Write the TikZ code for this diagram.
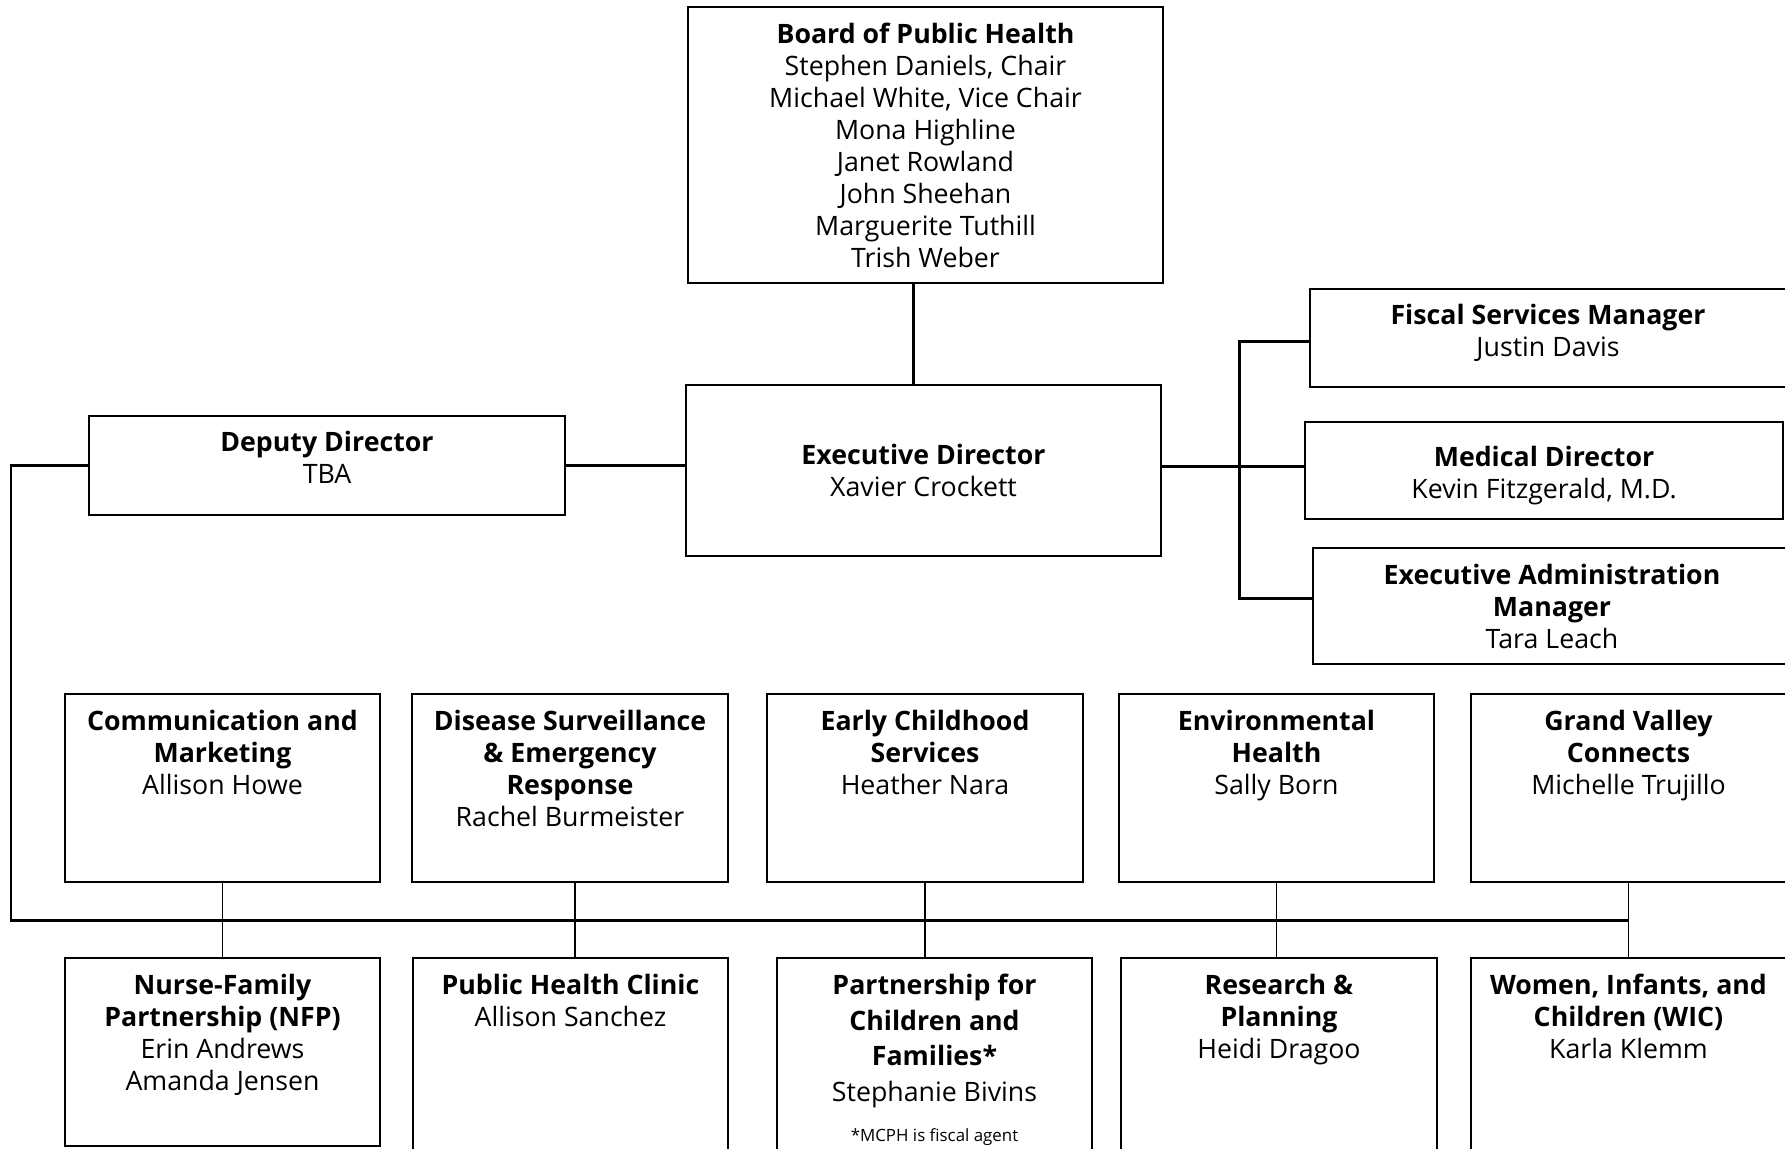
\documentclass[tikz,border=0pt]{standalone}
\usepackage{fontspec}
\setmainfont{Open Sans}
\begin{document}
\begin{tikzpicture}[x=0.01cm,y=-0.01cm,
	every node/.style={font=\fontsize{7.6}{9.1}\selectfont},
	box/.style={draw,line width=0.55pt,inner sep=0pt,align=center},
	dept/.style={box,minimum width=3.15cm,minimum height=1.88cm},
	head/.style={anchor=north,align=center,inner sep=0pt,yshift=-0.16cm},
	mid/.style={align=center,inner sep=0pt},
	link/.style={line width=0.85pt},
	drop/.style={line width=0.45pt}]
		\useasboundingbox (0,0) rectangle (1785,1148);
		\clip (0,0) rectangle (1785,1148);
		% board and directors
		\node[box,minimum width=4.75cm,minimum height=2.76cm] (board) at (925.5,145) {\textbf{Board of Public Health}\\Stephen Daniels, Chair\\Michael White, Vice Chair\\Mona Highline\\Janet Rowland\\John Sheehan\\Marguerite Tuthill\\Trish Weber};
		\node[box,minimum width=4.75cm,minimum height=1.71cm] (exec) at (923.5,470.5) {\textbf{Executive Director}\\Xavier Crockett};
		\node[box,minimum width=4.76cm,minimum height=0.99cm,label={[mid,yshift=0.08cm]center:{\textbf{Deputy Director}\\TBA}}] (dep) at (327,465.5) {};
		\node[box,minimum width=4.76cm,minimum height=0.98cm,label={[mid,yshift=0.05cm]center:{\textbf{Fiscal Services Manager}\\Justin Davis}}] (fis) at (1548,338) {};
		\node[box,minimum width=4.78cm,minimum height=0.97cm,label={[mid,yshift=-0.05cm]center:{\textbf{Medical Director}\\Kevin Fitzgerald, M.D.}}] (med) at (1544,470.5) {};
		\node[box,minimum width=4.78cm,minimum height=1.16cm] (adm) at (1552,606) {\textbf{Executive Administration}\\\textbf{Manager}\\Tara Leach};
		% first row of programs
		\node[dept,label={[head]north:{\textbf{Communication and}\\\textbf{Marketing}\\Allison Howe}}] (comm) at (222.5,788) {};
		\node[dept,label={[head]north:{\textbf{Disease Surveillance}\\\textbf{\& Emergency}\\\textbf{Response}\\Rachel Burmeister}}] (dis) at (570,788) {};
		\node[dept,label={[head]north:{\textbf{Early Childhood}\\\textbf{Services}\\Heather Nara}}] (ecs) at (925,788) {};
		\node[dept,label={[head]north:{\textbf{Environmental}\\\textbf{Health}\\Sally Born}}] (env) at (1276.5,788) {};
		\node[dept,label={[head]north:{\textbf{Grand Valley}\\\textbf{Connects}\\Michelle Trujillo}}] (gv) at (1628.5,788) {};
		% second row of programs
		\node[dept,label={[head]north:{\textbf{Nurse-Family}\\\textbf{Partnership (NFP)}\\Erin Andrews\\Amanda Jensen}}] (nfp) at (222.5,1052) {};
		\node[dept,minimum height=2cm,label={[head]north:{\textbf{Public Health Clinic}\\Allison Sanchez}}] (phc) at (570.5,1058) {};
		\node[dept,minimum height=2cm,label={[head,font=\fontsize{7.6}{10.2}\selectfont]north:{\textbf{Partnership for}\\\textbf{Children and}\\\textbf{Families*}\\Stephanie Bivins\\[1pt]{\fontsize{4.8}{5.5}\selectfont *MCPH is fiscal agent}}}] (pcf) at (934.5,1058) {};
		\node[dept,minimum height=2cm,label={[head]north:{\textbf{Research \&}\\\textbf{Planning}\\Heidi Dragoo}}] (rp) at (1279,1058) {};
		\node[dept,minimum height=2cm,label={[head]north:{\textbf{Women, Infants, and}\\\textbf{Children (WIC)}\\Karla Klemm}}] (wic) at (1628.5,1058) {};
		% connectors
		\coordinate (bx) at ([xshift=-0.12cm]board.south);
		\draw[link] (bx) -- (bx |- exec.north);
		\draw[link] (dep.east) -- (dep.east -| exec.west);
		\coordinate (jm) at (1239,466);
		\coordinate (jf) at (1239,341.5);
		\coordinate (ja) at (1239,598);
		\draw[link] (jm -| exec.east) -- (jm -| med.west);
		\draw[link] (jf -| fis.west) -- (jf) -- (ja) -- (ja -| adm.west);
		\coordinate (bl) at (11,920);
		\draw[link] (dep.west) -- (dep.west -| bl) -- (bl) -- (bl -| gv.south);
		\draw[drop] (comm.south) -- (nfp.north);
		\coordinate (dx) at ([xshift=0.05cm]dis.south);
		\draw[drop] (dx) -- (dx |- phc.north);
		\draw[drop] (ecs.south) -- (ecs.south |- pcf.north);
		\draw[drop] (env.south) -- (env.south |- rp.north);
		\draw[drop] (gv.south) -- (wic.north);
\end{tikzpicture}
\end{document}
